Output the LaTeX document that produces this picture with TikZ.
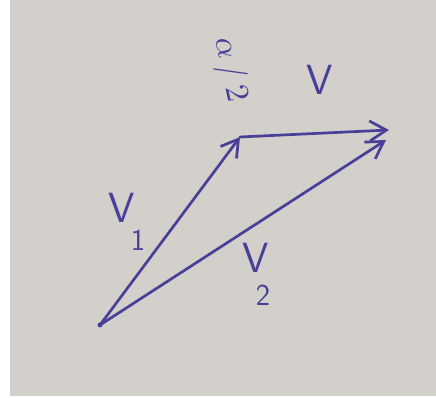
\documentclass[tikz,border=0pt]{standalone}
\usetikzlibrary{arrows.meta, positioning, calc}
\definecolor{cpaper}{HTML}{D3D0CC}
\definecolor{cink}{HTML}{4A3F98}
\tikzset{
  every picture/.style={font=\sffamily, line width=2.3pt},
  vec/.style={-{Straight Barb[length=5mm, width=6mm, line width=2.3pt]}, draw=cink, line cap=round},
  lbl/.style={text=cink, font=\sffamily\fontsize{36}{38}\selectfont, inner sep=0pt},
  sub/.style={text=cink, font=\sffamily\fontsize{26}{28}\selectfont, inner sep=0pt},
}
\begin{document}
\begin{tikzpicture}[x=0.03cm, y=-0.03cm]
  % paper
  \fill[white] (0,0) rectangle (436,398);
  \fill[cpaper] (10,0) rectangle (436,396);
  \useasboundingbox (0,0) rectangle (436,398);
  \coordinate (o) at (100,325);
  \coordinate (a) at (240,137);
  \coordinate (b) at (389,130);
  \coordinate (c) at (386,140);
  \draw[vec] (o) -- (a);
  \draw[vec] (a) -- (b);
  \draw[vec] (o) -- (c);
  \fill[cink] (o) circle (2.5);
  \node[lbl] (v) at (320,80) {V};
  \node[lbl] (v1) at (122,208) {V};
  \node[sub] (v1s) at (138,240) {1};
  \node[lbl] (v2) at (256,258) {V};
  \node[sub] (v2s) at (263,295) {2};
  \node[text=cink, inner sep=0pt, rotate=-78, scale=2.8] (ang) at (230,70) {$\alpha\,/\,2$};
\end{tikzpicture}
\end{document}
